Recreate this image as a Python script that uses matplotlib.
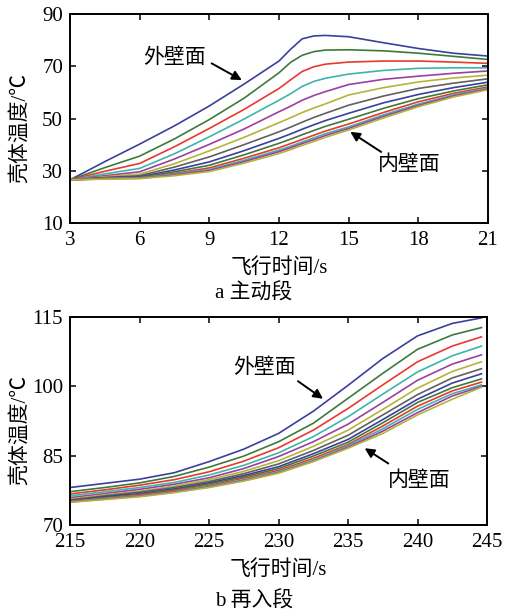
import matplotlib as mp
mp.use('Agg')
import matplotlib.pyplot as plt

plt.rcParams['font.family'] = ['Liberation Serif', 'Noto Sans CJK SC']

# colour cycle (MATLAB-like, as printed)
colors = ['#3b3f9e', '#3d7a3a', '#e8392f', '#3fb5aa', '#9b3fa0', '#b5b43a', '#606060',
          '#3b3f9e', '#3d7a3a', '#e8392f', '#3fb5aa', '#9b3fa0', '#b5b43a']

# a: boost phase
t_a = [3, 4.5, 6, 7.5, 9, 10.5, 12, 12.5, 13, 13.5, 14, 15, 16.5, 18, 19.5, 21]
a_temps = [
    [26.5, 33.5, 40.2, 47.2, 54.8, 63.2, 72.0, 76.5, 80.5, 81.6, 81.8, 81.3, 79.0, 76.8, 75.0, 73.9],
    [26.5, 31.2, 35.6, 42.2, 49.6, 57.8, 67.5, 71.5, 74.2, 75.6, 76.2, 76.3, 75.9, 75.0, 73.8, 72.6],
    [26.5, 29.8, 32.8, 39.2, 46.2, 53.5, 61.5, 64.8, 68.0, 69.8, 70.8, 71.6, 72.0, 72.0, 71.6, 71.1],
    [26.5, 28.8, 30.9, 36.5, 43.0, 49.8, 57.0, 59.5, 62.3, 64.2, 65.4, 67.0, 68.4, 69.2, 69.4, 69.4],
    [26.5, 28.1, 29.6, 34.5, 40.1, 46.0, 52.6, 54.7, 57.0, 58.8, 60.3, 63.0, 65.0, 66.2, 67.3, 68.2],
    [26.5, 27.7, 28.7, 32.7, 37.6, 42.8, 48.4, 50.3, 52.3, 54.0, 55.6, 59.0, 61.8, 64.0, 65.5, 66.6],
    [26.5, 27.4, 28.1, 31.4, 35.3, 40.0, 44.9, 46.7, 48.6, 50.4, 52.0, 55.1, 58.6, 61.5, 63.5, 65.2],
    [26.5, 27.3, 27.7, 30.3, 33.4, 37.7, 42.4, 44.1, 45.9, 47.6, 49.2, 52.0, 56.0, 59.2, 61.8, 63.9],
    [26.5, 27.2, 27.5, 29.6, 32.1, 36.1, 40.5, 42.1, 43.8, 45.4, 47.0, 49.7, 53.9, 57.6, 60.5, 62.9],
    [26.5, 27.1, 27.3, 29.0, 31.1, 34.8, 38.8, 40.4, 42.0, 43.6, 45.2, 47.9, 52.3, 56.4, 59.6, 62.1],
    [26.5, 27.0, 27.2, 28.7, 30.5, 34.0, 37.9, 39.4, 41.0, 42.6, 44.2, 46.8, 51.4, 55.5, 59.0, 61.6],
    [26.5, 26.9, 27.1, 28.4, 30.1, 33.5, 37.3, 38.8, 40.4, 41.9, 43.5, 46.2, 50.8, 55.0, 58.6, 61.3],
    [26.5, 26.8, 27.0, 28.1, 29.7, 32.9, 36.6, 38.1, 39.7, 41.2, 42.8, 45.6, 50.2, 54.5, 58.2, 61.0],
]

# b: re-entry phase
t_b = [215, 217.5, 220, 222.5, 225, 227.5, 230, 232.5, 235, 237.5, 240, 242.5, 244.6]
b_temps = [
    [78.1, 79.0, 79.9, 81.3, 83.7, 86.4, 89.8, 94.6, 100.2, 106.0, 110.9, 113.6, 114.8],
    [77.2, 78.1, 79.1, 80.5, 82.5, 84.9, 88.0, 92.0, 97.4, 102.8, 108.0, 111.1, 112.7],
    [76.7, 77.6, 78.6, 79.8, 81.5, 83.8, 86.7, 90.5, 95.2, 100.3, 105.3, 108.7, 110.7],
    [76.3, 77.2, 78.1, 79.2, 80.8, 82.9, 85.6, 89.1, 93.4, 98.3, 103.1, 106.6, 108.7],
    [75.9, 76.8, 77.7, 78.8, 80.2, 82.2, 84.8, 88.0, 91.8, 96.5, 101.3, 104.8, 106.8],
    [75.6, 76.5, 77.3, 78.4, 79.8, 81.6, 83.9, 87.0, 90.5, 95.0, 99.6, 103.2, 105.3],
    [75.4, 76.3, 77.1, 78.1, 79.4, 81.1, 83.2, 86.1, 89.4, 93.8, 98.2, 101.8, 103.8],
    [75.3, 76.1, 76.8, 77.8, 79.1, 80.7, 82.6, 85.4, 88.5, 92.8, 97.2, 100.7, 102.7],
    [75.2, 75.9, 76.6, 77.6, 78.9, 80.4, 82.2, 84.9, 87.9, 92.1, 96.5, 99.7, 101.6],
    [75.1, 75.8, 76.5, 77.4, 78.6, 80.1, 81.8, 84.4, 87.4, 91.4, 95.7, 99.0, 100.9],
    [75.0, 75.7, 76.3, 77.2, 78.4, 79.8, 81.5, 84.0, 87.1, 90.8, 95.0, 98.4, 100.3],
    [74.95, 75.6, 76.2, 77.1, 78.2, 79.6, 81.3, 83.8, 86.8, 90.3, 94.3, 97.9, 100.0],
    [74.9, 75.5, 76.1, 77.0, 78.1, 79.5, 81.2, 83.7, 86.6, 89.8, 93.8, 97.2, 99.8],
]

xticks_a = [3, 6, 9, 12, 15, 18, 21]
yticks_a = [10, 30, 50, 70, 90]
xticks_b = [215, 220, 225, 230, 235, 240, 245]
yticks_b = [70, 85, 100, 115]

ylabel = '壳体温度/℃'
xlabel = '飞行时间/s'
fs = 15

fig = plt.figure(figsize=(5.08, 6.14), dpi=100)
ax1 = fig.add_axes([0.1378, 0.6368, 0.8228, 0.3404])
ax2 = fig.add_axes([0.1378, 0.1450, 0.8209, 0.3388])


def style(ax, xt, yt):
    ax.set_xticks(xt)
    ax.set_yticks(yt)
    ax.set_xlim(xt[0], xt[-1])
    ax.set_ylim(yt[0], yt[-1])
    ax.tick_params(direction='in', top=True, right=True, length=4, width=1.1,
                   labelsize=fs)
    ax.tick_params(axis='y', pad=5)
    ax.tick_params(axis='x', pad=5.5)
    for s in ax.spines.values():
        s.set_linewidth(1.4)
    ax.set_ylabel(ylabel, fontsize=fs)
    ax.yaxis.set_label_coords(-0.095, 0.455)
    ax.set_xlabel(xlabel, fontsize=fs, labelpad=6)


def arrow(ax, tail, head):
    ax.annotate('', xy=head, xytext=tail,
                arrowprops=dict(arrowstyle='-|>', color='black', lw=1.4,
                                mutation_scale=14, shrinkA=0, shrinkB=0))


for c, y in zip(colors, a_temps):
    ax1.plot(t_a, y, color=c, lw=1.2)
style(ax1, xticks_a, yticks_a)
ax1.text(7.5, 73.2, '外壁面', fontsize=fs, ha='center', va='center')
arrow(ax1, (9.1, 71.1), (10.4, 64.7))
ax1.text(17.6, 32.1, '内壁面', fontsize=fs, ha='center', va='center')
arrow(ax1, (16.4, 37.2), (15.07, 44.9))
fig.text(0.5, 1 - 293 / 614, 'a 主动段', ha='center', va='center', fontsize=fs)

for c, y in zip(colors, b_temps):
    ax2.plot(t_b, y, color=c, lw=1.2)
style(ax2, xticks_b, yticks_b)
ax2.text(229.0, 104.0, '外壁面', fontsize=fs, ha='center', va='center')
arrow(ax2, (231.4, 101.1), (233.2, 97.3))
ax2.text(240.1, 79.4, '内壁面', fontsize=fs, ha='center', va='center')
arrow(ax2, (237.9, 83.3), (236.2, 86.6))
fig.text(0.5, 1 - 601 / 614, 'b 再入段', ha='center', va='center', fontsize=fs)

plt.savefig('out.png', dpi=100)
